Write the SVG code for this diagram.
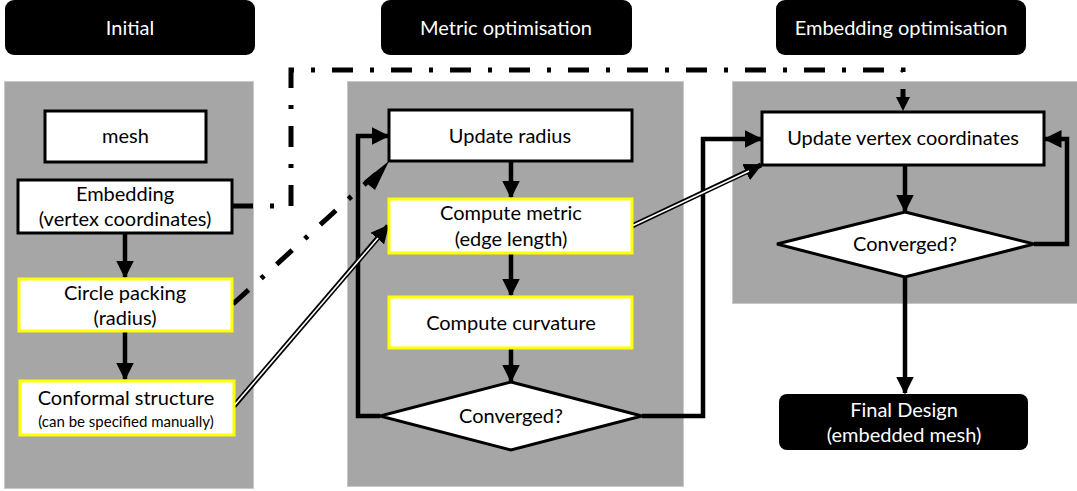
<svg xmlns="http://www.w3.org/2000/svg" width="1077" height="491" viewBox="0 0 1077 491">
<defs>
<marker id="ah" markerUnits="userSpaceOnUse" markerWidth="18" markerHeight="18" viewBox="0 0 12 12" refX="11" refY="6" orient="auto">
<path d="M0,0 L12,6 L0,12 z" fill="#000"/>
</marker>
<style>
.hdr{fill:#000}
.hdrt{fill:#fff;font-family:Lato,"Open Sans",sans-serif;font-size:20px;text-anchor:middle}
.panel{fill:#a6a6a6;stroke:#c8c8c8;stroke-width:1}
.box{fill:#fff;stroke:#000;stroke-width:3}
.ybox{fill:#fff;stroke:#ffff00;stroke-width:3}
.t{fill:#000;font-family:Lato,"Open Sans",sans-serif;font-size:20px;text-anchor:middle}
.ts{fill:#000;font-family:Lato,"Open Sans",sans-serif;font-size:15px;text-anchor:middle}
.ln{fill:none;stroke:#000;stroke-width:4.5}
.dd{fill:none;stroke:#000;stroke-width:5;stroke-dasharray:21 17 4 17}
.dbl{fill:none;stroke:#000;stroke-width:5}
.dblw{fill:none;stroke:#fff;stroke-width:1.6}
</style>
</defs>

<g id="header-initial"><rect class="hdr" x="5" y="0" width="250" height="55" rx="9"/><text class="hdrt" x="130" y="35">Initial</text></g>
<g id="header-metric"><rect class="hdr" x="381" y="0" width="251" height="55" rx="9"/><text class="hdrt" x="506" y="35">Metric optimisation</text></g>
<g id="header-embedding"><rect class="hdr" x="776" y="0" width="250" height="55" rx="9"/><text class="hdrt" x="901" y="35">Embedding optimisation</text></g>

<g id="panel-initial"><rect class="panel" x="4.5" y="81.5" width="249" height="407"/></g>
<g id="panel-metric"><rect class="panel" x="347.5" y="81.5" width="336" height="405"/></g>
<g id="panel-embedding"><rect class="panel" x="732.5" y="81.5" width="345" height="222"/></g>

<g id="connectors">
<path class="ln" d="M125,233 V277" marker-end="url(#ah)"/>
<path class="ln" d="M125,331 V379" marker-end="url(#ah)"/>
<path class="ln" d="M511,161 V197" marker-end="url(#ah)"/>
<path class="ln" d="M511,253 V295" marker-end="url(#ah)"/>
<path class="ln" d="M511,348 V381" marker-end="url(#ah)"/>
<path class="ln" d="M380,416 H358 V136 H388" marker-end="url(#ah)"/>
<path class="ln" d="M642,416 H703 V139 H761" marker-end="url(#ah)"/>
<path class="ln" d="M905,165 V211" marker-end="url(#ah)"/>
<path class="ln" d="M1034,244 H1067 V139 H1045" marker-end="url(#ah)"/>
<path class="ln" d="M905,277 V393" marker-end="url(#ah)"/>
<path class="dd" d="M232,206 H291 V70 H903 V98"/>
<path d="M896,97 L910,97 L903,111 z" fill="#000"/>
<path class="dd" d="M233,304 L376,174"/>
<path d="M364,181 L389,161 L375,190 z" fill="#000"/>
<path class="dbl" d="M234,406 L388,226" marker-end="url(#ah)"/>
<path class="dblw" d="M233,407 L378,238"/>
<path class="dbl" d="M632,226 L761,165" marker-end="url(#ah)"/>
<path class="dblw" d="M632,226 L749,171"/>
</g>

<g id="node-mesh"><rect class="box" x="45" y="111" width="161" height="51"/><text class="t" x="125.5" y="143">mesh</text></g>
<g id="node-embedding"><rect class="box" x="18" y="180" width="214" height="53"/><text class="t" x="125" y="201">Embedding</text><text class="t" x="125" y="226">(vertex coordinates)</text></g>
<g id="node-circle"><rect class="ybox" x="19" y="279" width="213" height="52"/><text class="t" x="125" y="300">Circle packing</text><text class="t" x="125" y="325">(radius)</text></g>
<g id="node-conformal"><rect class="ybox" x="20" y="381" width="214" height="54"/><text class="t" x="126" y="405">Conformal structure</text><text class="ts" x="126" y="427">(can be specified manually)</text></g>

<g id="node-update-radius"><rect class="box" x="389" y="110" width="243" height="51"/><text class="t" x="510" y="143">Update radius</text></g>
<g id="node-metric"><rect class="ybox" x="389" y="199" width="243" height="54"/><text class="t" x="511" y="220">Compute metric</text><text class="t" x="511" y="246">(edge length)</text></g>
<g id="node-curvature"><rect class="ybox" x="389" y="297" width="243" height="51"/><text class="t" x="511" y="330">Compute curvature</text></g>
<g id="node-converged1"><polygon class="box" points="511,382 642,416 511,450 380,416"/><text class="t" x="511" y="423">Converged?</text></g>

<g id="node-update-vertex"><rect class="box" x="762" y="112" width="282" height="53"/><text class="t" x="903" y="145">Update vertex coordinates</text></g>
<g id="node-converged2"><polygon class="box" points="905,212 1034,244 905,277 777,244"/><text class="t" x="905" y="251">Converged?</text></g>
<g id="node-final"><rect class="hdr" x="779" y="394" width="249" height="56" rx="8"/><text class="hdrt" x="904" y="417">Final Design</text><text class="hdrt" x="904" y="442">(embedded mesh)</text></g>
</svg>
